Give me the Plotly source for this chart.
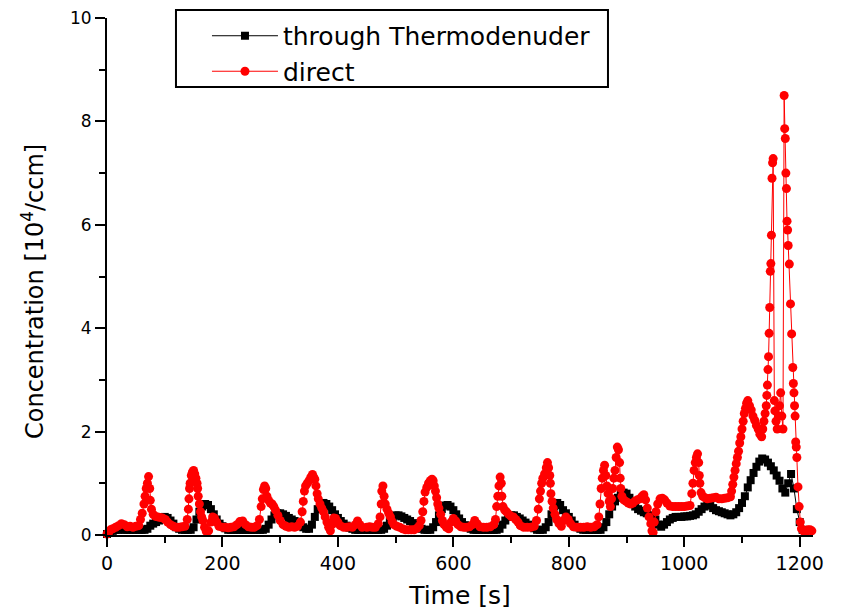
import plotly.graph_objects as go

# ---- data: through Thermodenuder (black squares), sampled every 5 s ----
td_t = list(range(0, 1215, 5))
td_v = [
    .02, .05, .08, .10, .10, .11, .10, .10, .10, .10,
    .10, .10, .10, .10, .12, .18, .22, .25, .28, .32,
    .35, .33, .28, .22, .15, .12, .10, .10, .10, .10,
    .15, .30, .45, .55, .60, .58, .50, .40, .30, .22,
    .17, .13, .10, .10, .10, .10, .10, .10, .10, .10,
    .10, .10, .10, .10, .10, .12, .20, .30, .38, .42,
    .42, .40, .37, .33, .30, .27, .23, .19, .15, .12,
    .12, .20, .35, .50, .60, .62, .60, .55, .48, .40,
    .33, .27, .22, .18, .14, .12, .10, .10, .10, .10,
    .10, .10, .10, .10, .10, .10, .12, .18, .28, .35,
    .38, .38, .36, .33, .30, .27, .23, .19, .15, .12,
    .10, .10, .10, .15, .25, .38, .50, .57, .58, .55,
    .48, .40, .32, .25, .19, .15, .12, .10, .10, .10,
    .10, .10, .10, .10, .10, .10, .12, .20, .28, .35,
    .38, .38, .35, .32, .28, .24, .20, .16, .13, .10,
    .10, .10, .15, .25, .40, .55, .62, .58, .48, .42,
    .35, .28, .20, .15, .12, .10, .10, .10, .10, .10,
    .10, .10, .15, .25, .40, .55, .65, .72, .78, .82,
    .80, .72, .62, .55, .50, .47, .44, .42, .38, .35,
    .30, .20, .16, .20, .25, .30, .33, .35, .35, .35,
    .36, .36, .37, .38, .40, .45, .50, .55, .58, .57,
    .52, .48, .46, .44, .42, .40, .38, .40, .44, .52,
    .62, .75, .92, 1.06, 1.20, 1.32, 1.42, 1.48, 1.46, 1.40,
    1.33, 1.25, 1.15, 1.05, .90, .82, 1.00, 1.18, .90, .50,
    .25, .10, .05,
]

# ---- data: direct (red circles) ----
dir_t = [
    0, 3, 6, 10, 15, 20, 25, 30, 35, 40,
    45, 50, 55, 58, 61, 64, 66, 68, 70, 72,
    74, 75, 77, 80, 84, 88, 92, 96, 101, 105,
    110, 115, 120, 125, 130, 135, 139, 141, 142, 143,
    144, 146, 148, 150, 152, 154, 156, 157, 158, 160,
    162, 164, 166, 169, 172, 176, 180, 183, 186, 190,
    194, 200, 205, 210, 215, 220, 225, 230, 235, 240,
    245, 250, 255, 260, 264, 267, 269, 271, 273, 275,
    277, 280, 283, 286, 289, 292, 296, 300, 305, 310,
    315, 320, 325, 330, 335, 338, 340, 342, 344, 347,
    350, 353, 356, 358, 360, 362, 364, 366, 369, 372,
    375, 378, 381, 384, 387, 390, 393, 396, 400, 404,
    410, 415, 420, 425, 430, 434, 438, 442, 450, 455,
    460, 465, 470, 473, 475, 476, 478, 480, 482, 485,
    488, 491, 494, 497, 502, 507, 512, 517, 522, 527,
    532, 537, 541, 544, 547, 549, 551, 554, 557, 560,
    563, 565, 567, 569, 571, 573, 575, 578, 581, 584,
    588, 592, 596, 600, 604, 608, 613, 618, 623, 628,
    633, 637, 641, 646, 652, 658, 664, 670, 673, 675,
    677, 679, 681, 683, 684, 686, 689, 692, 696, 700,
    704, 708, 712, 716, 722, 728, 734, 740, 744, 747,
    749, 751, 753, 755, 758, 761, 763, 765, 767, 768,
    769, 771, 773, 776, 779, 783, 787, 791, 795, 799,
    803, 808, 814, 820, 826, 832, 838, 844, 849, 852,
    854, 856, 858, 860, 862, 864, 866, 868, 870, 872,
    874, 876, 878, 880, 882, 884, 886, 888, 889, 890,
    892, 895, 899, 903, 907, 911, 915, 919, 923, 927,
    930, 933, 936, 939, 942, 944, 946, 948, 951, 954,
    958, 962, 966, 970, 975, 980, 985, 990, 995, 1000,
    1005, 1010, 1013, 1015, 1017, 1019, 1021, 1023, 1025, 1026,
    1027, 1029, 1032, 1036, 1040, 1045, 1050, 1055, 1060, 1065,
    1070, 1075, 1080, 1082, 1084, 1086, 1088, 1090, 1092, 1094,
    1096, 1098, 1100, 1102, 1104, 1106, 1108, 1110, 1113, 1116,
    1119, 1122, 1125, 1128, 1131, 1134, 1136, 1138, 1140, 1142,
    1143, 1144, 1145, 1146, 1147, 1148, 1149, 1150, 1151, 1152,
    1153, 1154, 1156, 1157, 1159, 1161, 1163, 1165, 1167, 1169,
    1171, 1173, 1174, 1175, 1176, 1177, 1178, 1179, 1180, 1182,
    1184, 1186, 1188, 1189, 1190, 1191, 1192, 1193, 1194, 1195,
    1197, 1199, 1201, 1203, 1206, 1210, 1214, 1218, 1221,
]
dir_v = [
    .02, .05, .10, .12, .15, .18, .22, .20, .16, .17,
    .15, .17, .18, .30, .42, .60, .75, .90, 1.00, 1.13,
    .90, .67, .50, .40, .36, .35, .34, .33, .30, .25,
    .20, .17, .15, .15, .16, .17, .30, .50, .70, .90,
    1.00, 1.15, 1.22, 1.25, 1.18, 1.10, 1.00, .90, .75, .60,
    .45, .35, .28, .15, .07, .08, .25, .35, .33, .25,
    .17, .15, .15, .14, .15, .16, .20, .26, .27, .20,
    .16, .15, .15, .18, .30, .55, .70, .88, .95, .90,
    .75, .67, .62, .60, .55, .48, .38, .28, .20, .17,
    .15, .16, .15, .17, .25, .45, .65, .85, .95, 1.00,
    1.05, 1.12, 1.17, 1.12, 1.08, .95, .80, .70, .60, .52,
    .45, .35, .25, .15, .08, .20, .33, .32, .25, .18,
    .15, .15, .16, .15, .20, .27, .20, .15, .15, .16,
    .15, .15, .22, .35, .60, .85, .95, .75, .60, .50,
    .42, .35, .26, .20, .17, .15, .12, .10, .10, .10,
    .10, .13, .18, .28, .45, .65, .83, .92, 1.00, 1.05,
    1.08, 1.05, .95, .85, .72, .60, .52, .40, .28, .20,
    .15, .12, .25, .32, .27, .20, .16, .15, .15, .16,
    .20, .28, .22, .16, .15, .15, .16, .20, .30, .55,
    .75, .95, 1.12, 1.00, .75, .55, .48, .45, .40, .36,
    .35, .30, .25, .18, .15, .15, .15, .17, .28, .50,
    .70, .85, 1.00, 1.10, 1.18, 1.30, 1.40, 1.30, 1.15, 1.00,
    .80, .65, .52, .40, .30, .22, .17, .28, .35, .30,
    .22, .16, .15, .15, .15, .16, .15, .16, .20, .35,
    .60, .90, 1.10, 1.25, 1.35, 1.15, .95, .80, .65, .55,
    .70, .90, 1.10, 1.25, 1.50, 1.70, 1.65, 1.40, 1.10, .90,
    .75, .68, .65, .62, .60, .62, .66, .68, .70, .75,
    .78, .68, .52, .35, .22, .08, .05, .25, .45, .60,
    .70, .71, .68, .62, .56, .55, .55, .55, .55, .55,
    .56, .57, .80, 1.00, 1.25, 1.40, 1.50, 1.57, 1.40, 1.15,
    1.00, .82, .75, .72, .70, .71, .72, .73, .70, .70,
    .71, .72, .74, .85, .98, 1.12, 1.25, 1.38, 1.50, 1.62,
    1.78, 1.90, 2.05, 2.20, 2.35, 2.45, 2.55, 2.60, 2.50, 2.42,
    2.30, 2.22, 2.12, 2.05, 1.95, 1.90, 2.05, 2.20, 2.35, 2.50,
    2.70, 2.90, 3.20, 3.45, 3.90, 4.40, 5.10, 5.25, 5.80, 6.90,
    7.20, 7.28, 2.60, 2.40, 2.20, 2.05, 2.30, 2.50, 2.75, 2.30,
    2.05, 8.50, 7.86, 7.67, 7.00, 6.70, 6.07, 5.90, 5.60, 5.24,
    4.47, 3.89, 3.24, 2.93, 2.75, 2.50, 2.30, 1.80, 1.70, 1.50,
    .93, .55, .25, .12, .08, .05, .10, .10, .08,
]

x_ticks = [0, 200, 400, 600, 800, 1000, 1200]
y_ticks = [0, 2, 4, 6, 8, 10]

FONT = "DejaVu Sans, Liberation Sans, Arial, sans-serif"

fig = go.Figure()
fig.add_trace(go.Scatter(
    x=td_t, y=td_v, mode="lines+markers", name="through Thermodenuder",
    line=dict(color="black", width=1),
    marker=dict(symbol="square", size=8, color="black", line=dict(width=0)),
    cliponaxis=False,
))
fig.add_trace(go.Scatter(
    x=dir_t, y=dir_v, mode="lines+markers", name="direct",
    line=dict(color="red", width=1),
    marker=dict(symbol="circle", size=9, color="red", line=dict(width=0)),
    cliponaxis=False,
))

axis_common = dict(
    showline=True, linecolor="black", linewidth=2,
    ticks="outside", ticklen=10, tickwidth=2, tickcolor="black",
    showgrid=False, zeroline=False, mirror=False,
    ticklabeloverflow="allow",
)

fig.update_layout(
    width=842, height=614,
    margin=dict(l=99, r=37, t=10, b=87, autoexpand=False),
    paper_bgcolor="white", plot_bgcolor="white",
    font=dict(family=FONT, color="black"),
    xaxis=dict(
        range=[0, 1223], tickvals=x_ticks, ticktext=[str(v) for v in x_ticks],
        tickfont=dict(size=19, family=FONT),
        title=dict(text="Time [s]", font=dict(size=25, family=FONT), standoff=14),
        minor=dict(dtick=100, tick0=0, ticks="outside", ticklen=6, tickwidth=2,
                   tickcolor="black", showgrid=False),
        **axis_common,
    ),
    yaxis=dict(
        range=[0, 10], tickvals=y_ticks, ticktext=[str(v) for v in y_ticks],
        tickfont=dict(size=17, family=FONT),
        minor=dict(dtick=1, tick0=0, ticks="outside", ticklen=6, tickwidth=2,
                   tickcolor="black", showgrid=False),
        **axis_common,
    ),
    annotations=[dict(
        text="Concentration [10<sup>4</sup>/ccm]", textangle=-90,
        xref="paper", yref="paper", x=-0.1048, y=0.470,
        xanchor="center", yanchor="middle", showarrow=False,
        font=dict(size=24, family=FONT, color="black"),
    )],
    legend=dict(
        x=0.1416, y=1.0097, xanchor="left", yanchor="top",
        bgcolor="rgba(0,0,0,0)", borderwidth=0,
        font=dict(size=25, family=FONT, color="black"),
        itemwidth=66, tracegroupgap=0,
    ),
    shapes=[dict(
        type="rect", xref="paper", yref="paper",
        x0=0.0977, x1=0.7096, y0=0.8665, y1=1.0155,
        line=dict(color="black", width=2), fillcolor="rgba(0,0,0,0)", layer="above",
    )],
)

fig.write_html("out.html")
